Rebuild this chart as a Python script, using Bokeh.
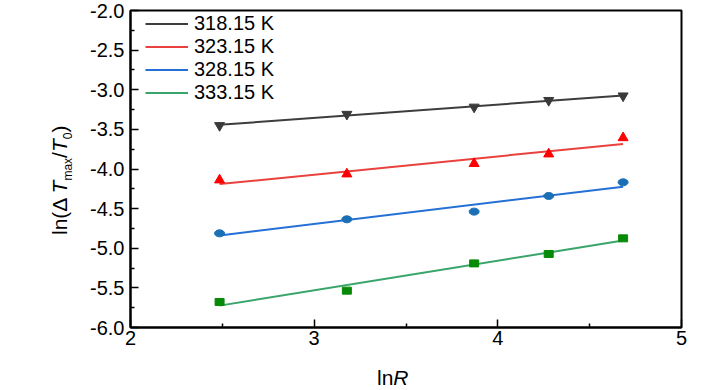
import numpy as np
from bokeh.plotting import figure
from bokeh.layouts import row, column
from bokeh.models import Range1d, FixedTicker, Legend, LegendItem, Div
from bokeh.embed import file_html
from bokeh.resources import INLINE

# ---------------- data ----------------
lnR = [2.485, 3.178, 3.871, 4.277, 4.682]
temps = ["318.15 K", "323.15 K", "328.15 K", "333.15 K"]
y_318 = [-3.451, -3.309, -3.218, -3.134, -3.077]
y_323 = [-4.139, -4.063, -3.932, -3.811, -3.606]
y_328 = [-4.812, -4.635, -4.538, -4.340, -4.168]
y_333 = [-5.678, -5.535, -5.191, -5.072, -4.875]
x_ticks = [2, 3, 4, 5]
x_tick_labels = ["2", "3", "4", "5"]
x_minor = [2.5, 3.5, 4.5]
y_ticks = [-6.0, -5.5, -5.0, -4.5, -4.0, -3.5, -3.0, -2.5, -2.0]
y_tick_labels = ["-6.0", "-5.5", "-5.0", "-4.5", "-4.0", "-3.5", "-3.0", "-2.5", "-2.0"]
y_minor = [-5.75, -5.25, -4.75, -4.25, -3.75, -3.25, -2.75, -2.25]

series = [y_318, y_323, y_328, y_333]
line_colors = ["#3d3d3d", "#e8413e", "#2470d6", "#3aa56b"]
marker_colors = ["#3a3a3a", "#ff0000", "#1a6fb5", "#078a07"]

FONT = "Liberation Sans"

# ---------------- layout sizes ----------------
YDIV_W = 72            # column holding the rotated y title
FIG_W, FIG_H = 728 - YDIV_W, 355
XDIV_H = 390 - FIG_H   # strip holding the x title
ML, MR, MT, MB = 130 - YDIV_W, 47, 10, 28

p = figure(width=FIG_W, height=FIG_H, x_range=Range1d(2, 5), y_range=Range1d(-6, -2),
           output_backend="svg", toolbar_location=None,
           min_border_left=ML, min_border_right=MR,
           min_border_top=MT, min_border_bottom=MB)
p.xgrid.visible = False
p.ygrid.visible = False
p.outline_line_color = "black"
p.outline_line_width = 2
p.background_fill_color = "white"
p.border_fill_color = "white"

for ax in (p.xaxis[0], p.yaxis[0]):
    ax.axis_line_width = 2
    ax.axis_line_color = "black"
    ax.major_tick_in = 8
    ax.major_tick_out = 0
    ax.minor_tick_in = 4
    ax.minor_tick_out = 0
    ax.major_tick_line_width = 1.5
    ax.minor_tick_line_width = 1.5
    ax.major_tick_line_color = "black"
    ax.minor_tick_line_color = "black"
    ax.major_label_text_font = FONT
    ax.major_label_text_font_size = "20px"
    ax.major_label_text_color = "black"

p.xaxis[0].ticker = FixedTicker(ticks=x_ticks, minor_ticks=x_minor)
p.yaxis[0].ticker = FixedTicker(ticks=y_ticks, minor_ticks=y_minor)
p.xaxis[0].major_label_overrides = {float(t): s for t, s in zip(x_ticks, x_tick_labels)}
p.yaxis[0].major_label_overrides = {float(t): s for t, s in zip(y_ticks, y_tick_labels)}
p.xaxis[0].major_label_standoff = 3
p.yaxis[0].major_label_standoff = 6

# ---------------- series ----------------
items = []
for ys, lc, name in zip(series, line_colors, temps):
    slope, icpt = np.polyfit(lnR, ys, 1)
    fx = [lnR[0], lnR[-1]]
    fy = [slope * v + icpt for v in fx]
    r = p.line(fx, fy, line_color=lc, line_width=2)
    items.append(LegendItem(label=name, renderers=[r]))

p.scatter(lnR, y_318, marker="inverted_triangle", size=10,
          fill_color=marker_colors[0], line_color=marker_colors[0])
p.scatter(lnR, y_323, marker="triangle", size=10,
          fill_color=marker_colors[1], line_color=marker_colors[1])
p.ellipse(lnR, y_328, width=10, height=7, width_units="screen",
          height_units="screen", fill_color=marker_colors[2],
          line_color=marker_colors[2])
p.rect(lnR, y_333, width=9, height=7, width_units="screen",
       height_units="screen", fill_color=marker_colors[3],
       line_color=marker_colors[3])

frame_h = FIG_H - MT - MB
legend = Legend(items=items, location=(15, frame_h - 2 - 92),
                padding=0, margin=0, spacing=0, label_height=23,
                glyph_height=23, glyph_width=43, label_standoff=6,
                background_fill_alpha=0, border_line_alpha=0,
                label_text_font=FONT, label_text_font_size="20px",
                label_text_color="black")
p.add_layout(legend)

# ---------------- axis titles (HTML, rich text) ----------------
SUB = "font-size:12px; vertical-align:-5px; line-height:0;"
ytitle_html = (
    f'<div style="position:relative; width:{YDIV_W}px; height:{FIG_H}px;">'
    '<div style="position:absolute; left:49px; top:235px; '
    'transform:rotate(-90deg); transform-origin:0 0; white-space:nowrap; '
    f'font-family:\'{FONT}\'; font-size:21px; line-height:21px; color:black;">'
    f'ln(&Delta;&thinsp;<i>T</i><span style="{SUB}">max</span>/<i>T</i>'
    f'<span style="{SUB}">0</span>)</div></div>'
)
xtitle_html = (
    f'<div style="position:relative; width:728px; height:{XDIV_H}px;">'
    '<div style="position:absolute; left:377px; top:12px; white-space:nowrap; '
    f'font-family:\'{FONT}\'; font-size:21px; line-height:21px; color:black;">'
    'ln<i>R</i></div></div>'
)
ydiv = Div(text=ytitle_html, width=YDIV_W, height=FIG_H, margin=0)
xdiv = Div(text=xtitle_html, width=728, height=XDIV_H, margin=0)

layout = column(row(ydiv, p, spacing=0), xdiv, spacing=0)

open("out.html", "w").write(file_html(layout, INLINE))
